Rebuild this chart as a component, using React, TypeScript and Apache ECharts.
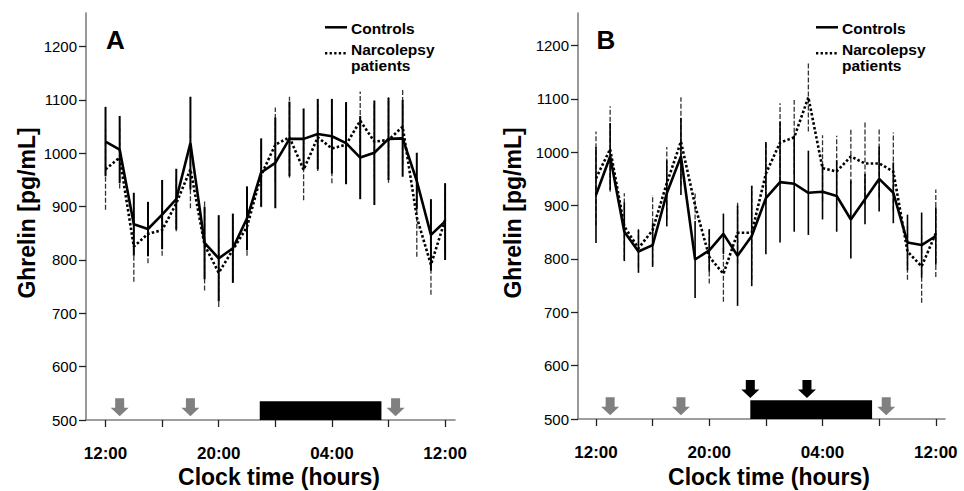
import React, { useEffect, useRef } from 'react';
import * as echarts from 'echarts';

// hours after 12:00 (clock noon)
const hours = [0, 1, 2, 3, 4, 5, 6, 7, 8, 9, 10, 11, 12, 13, 14, 15, 16, 17, 18, 19, 20, 21, 22, 23, 24];

// Panel A
const controlsA = [1022, 1007, 867, 858, 885, 914, 1019, 832, 803, 822, 878, 964, 982, 1027, 1027, 1036, 1032, 1019, 992, 1001, 1027, 1028, 948, 847, 872];
const controlsErrA = [65, 63, 59, 51, 65, 57, 87, 68, 81, 65, 60, 64, 85, 70, 57, 66, 70, 77, 78, 98, 77, 72, 53, 67, 72];
const narcA = [970, 992, 825, 849, 856, 906, 970, 828, 776, 819, 862, 959, 1016, 1030, 969, 1030, 1009, 1016, 1061, 1022, 1025, 1050, 880, 791, 875];
const narcErrA = [76, 58, 66, 55, 48, 52, 73, 85, 64, 57, 54, 60, 70, 76, 57, 63, 65, 70, 55, 70, 80, 72, 74, 56, 60];

// Panel B
const controlsB = [920, 992, 851, 814, 826, 923, 992, 799, 816, 847, 806, 843, 914, 944, 941, 924, 926, 918, 874, 912, 950, 924, 831, 826, 843];
const controlsErrB = [90, 63, 55, 40, 41, 62, 72, 72, 40, 38, 94, 94, 105, 113, 90, 79, 52, 67, 73, 47, 61, 57, 52, 61, 54];
const narcB = [951, 1006, 861, 820, 854, 942, 1020, 900, 804, 772, 849, 849, 960, 1018, 1028, 1103, 970, 964, 992, 979, 979, 964, 814, 786, 848];
const narcErrB = [88, 80, 62, 36, 66, 68, 83, 26, 50, 52, 58, 88, 57, 74, 70, 64, 62, 67, 51, 77, 64, 73, 53, 68, 82];

// Annotations (hours after 12:00)
const mealHours = [1, 6, 20.5];
const bloodHoursB = [10.9, 14.9];
const sleepStart = 10.9;
const sleepEnd = 19.5;
const sleepTop = 535;

// Axis ticks
const yTicks = [500, 600, 700, 800, 900, 1000, 1100, 1200];
const xTickHours = [0, 4, 8, 12, 16, 20, 24];
const xLabelHours = [0, 8, 16, 24];
const xTickLabels = ['12:00', '20:00', '04:00', '12:00'];

const FONT = "'Liberation Sans', Arial, Helvetica, sans-serif";
const ARROW = 'path://M4.5,0 L13.5,0 L13.5,9.5 L18,9.5 L9,18 L0,9.5 L4.5,9.5 Z';

function xAxisDef(gi: number, min: number, max: number) {
  return {
    type: 'value', gridIndex: gi, min, max,
    axisLine: { show: true, onZero: false, lineStyle: { color: '#7f7f7f', width: 1.6 } },
    axisTick: { show: true, length: 7, customValues: xTickHours, lineStyle: { color: '#222', width: 1.3 } },
    axisLabel: {
      customValues: xLabelHours,
      formatter: (v: number) => { const k = xLabelHours.indexOf(v); return k >= 0 ? xTickLabels[k] : ''; },
      margin: 25, fontSize: 17, fontWeight: 'bold', color: '#000', fontFamily: FONT,
    },
    splitLine: { show: false },
  };
}

function yAxisDef(gi: number, max: number) {
  return {
    type: 'value', gridIndex: gi, min: 500, max,
    axisLine: { show: true, onZero: false, lineStyle: { color: '#7f7f7f', width: 1.6 } },
    axisTick: { show: true, length: 7, customValues: yTicks, lineStyle: { color: '#222', width: 1.3 } },
    axisLabel: {
      customValues: yTicks, formatter: (v: number) => String(v),
      margin: 9, fontSize: 15, color: '#000', fontFamily: FONT,
    },
    splitLine: { show: false },
  };
}

function errSeries(gi: number, means: number[], errs: number[], dashed: boolean, width: number) {
  return {
    type: 'custom', xAxisIndex: gi, yAxisIndex: gi, clip: false, silent: true,
    data: means.map((v, i) => [hours[i], v - errs[i], v + errs[i]]),
    encode: { x: 0, y: [1, 2] },
    renderItem: (_p: any, api: any) => {
      const a = api.coord([api.value(0), api.value(1)]);
      const b = api.coord([api.value(0), api.value(2)]);
      return {
        type: 'line',
        shape: { x1: a[0], y1: a[1], x2: b[0], y2: b[1] },
        style: { stroke: dashed ? '#333' : '#000', lineWidth: width, lineDash: dashed ? [5, 2] : null },
      };
    },
  };
}

function lineSeries(gi: number, name: string, vals: number[], dotted: boolean) {
  return {
    type: 'line', name, xAxisIndex: gi, yAxisIndex: gi,
    data: vals.map((v, i) => [hours[i], v]),
    showSymbol: false, symbol: 'none',
    lineStyle: { color: '#000', width: 2.6, type: dotted ? [2.5, 2.2] : 'solid', cap: 'butt' },
    z: 3,
  };
}

function sleepSeries(gi: number) {
  return {
    type: 'custom', xAxisIndex: gi, yAxisIndex: gi, clip: false, silent: true,
    data: [[sleepStart, sleepEnd, sleepTop]],
    renderItem: (_p: any, api: any) => {
      const a = api.coord([api.value(0), api.value(2)]);
      const b = api.coord([api.value(1), 500]);
      return { type: 'rect', shape: { x: a[0], y: a[1], width: b[0] - a[0], height: b[1] - a[1] }, style: { fill: '#000' } };
    },
    z: 2,
  };
}

function arrowSeries(gi: number, xs: number[], color: string, offset: number) {
  return {
    type: 'scatter', xAxisIndex: gi, yAxisIndex: gi, clip: false, silent: true,
    data: xs.map((x) => [x, 500]),
    symbol: ARROW, symbolSize: [18, 18], symbolOffset: [0, offset],
    itemStyle: { color, opacity: 1 },
    z: 4,
  };
}

function legendGraphics(x0: number) {
  const f = `bold 15.5px ${FONT}`;
  return [
    { type: 'line', shape: { x1: x0, y1: 27.3, x2: x0 + 22, y2: 27.3 }, style: { stroke: '#000', lineWidth: 2.5 } },
    { type: 'line', shape: { x1: x0, y1: 53.3, x2: x0 + 22, y2: 53.3 }, style: { stroke: '#000', lineWidth: 2.5, lineDash: [2.3, 2.3] } },
    { type: 'text', x: x0 + 26, y: 28.4, style: { text: 'Controls', font: f, fill: '#000', verticalAlign: 'middle', align: 'left' } },
    { type: 'text', x: x0 + 26, y: 49.8, style: { text: 'Narcolepsy', font: f, fill: '#000', verticalAlign: 'middle', align: 'left' } },
    { type: 'text', x: x0 + 26, y: 65.6, style: { text: 'patients', font: f, fill: '#000', verticalAlign: 'middle', align: 'left' } },
  ];
}

export default function App() {
  const ref = useRef<HTMLDivElement>(null);
  useEffect(() => {
    const chart = echarts.init(ref.current!, null, { renderer: 'svg' });
    const option: any = {
      animation: false,
      backgroundColor: '#fff',
      grid: [
        { left: 86, top: 13, width: 369, height: 407 },
        { left: 578, top: 13, width: 367, height: 406 },
      ],
      xAxis: [xAxisDef(0, -1.38, 24.7), xAxisDef(1, -1.27, 24.65)],
      yAxis: [yAxisDef(0, 1263), yAxisDef(1, 1261)],
      series: [
        errSeries(0, narcA, narcErrA, true, 1.3),
        errSeries(0, controlsA, controlsErrA, false, 2),
        lineSeries(0, 'Controls', controlsA, false),
        lineSeries(0, 'Narcolepsy patients', narcA, true),
        sleepSeries(0),
        arrowSeries(0, mealHours, '#808080', -12.7),
        errSeries(1, narcB, narcErrB, true, 1.3),
        errSeries(1, controlsB, controlsErrB, false, 1.6),
        lineSeries(1, 'Controls', controlsB, false),
        lineSeries(1, 'Narcolepsy patients', narcB, true),
        sleepSeries(1),
        arrowSeries(1, mealHours, '#808080', -12.7),
        arrowSeries(1, bloodHoursB, '#000', -30),
      ],
      graphic: [
        { type: 'text', x: 106, y: 39.5, style: { text: 'A', font: `bold 26px ${FONT}`, fill: '#000', verticalAlign: 'middle', align: 'left' } },
        { type: 'text', x: 596.5, y: 39.5, style: { text: 'B', font: `bold 26px ${FONT}`, fill: '#000', verticalAlign: 'middle', align: 'left' } },
        ...legendGraphics(325),
        ...legendGraphics(816),
        { type: 'text', x: 27, y: 213, rotation: Math.PI / 2, style: { text: 'Ghrelin [pg/mL]', font: `bold 23px ${FONT}`, fill: '#000', verticalAlign: 'middle', align: 'center' } },
        { type: 'text', x: 513, y: 213, rotation: Math.PI / 2, style: { text: 'Ghrelin [pg/mL]', font: `bold 23px ${FONT}`, fill: '#000', verticalAlign: 'middle', align: 'center' } },
        { type: 'text', x: 279, y: 477, style: { text: 'Clock time (hours)', font: `bold 23px ${FONT}`, fill: '#000', verticalAlign: 'middle', align: 'center' } },
        { type: 'text', x: 769, y: 477, style: { text: 'Clock time (hours)', font: `bold 23px ${FONT}`, fill: '#000', verticalAlign: 'middle', align: 'center' } },
      ],
    };
    chart.setOption(option);
    return () => chart.dispose();
  }, []);
  return <div ref={ref} style={{ position: 'fixed', left: 0, top: 0, width: 964, height: 491, background: '#fff' }} />;
}
